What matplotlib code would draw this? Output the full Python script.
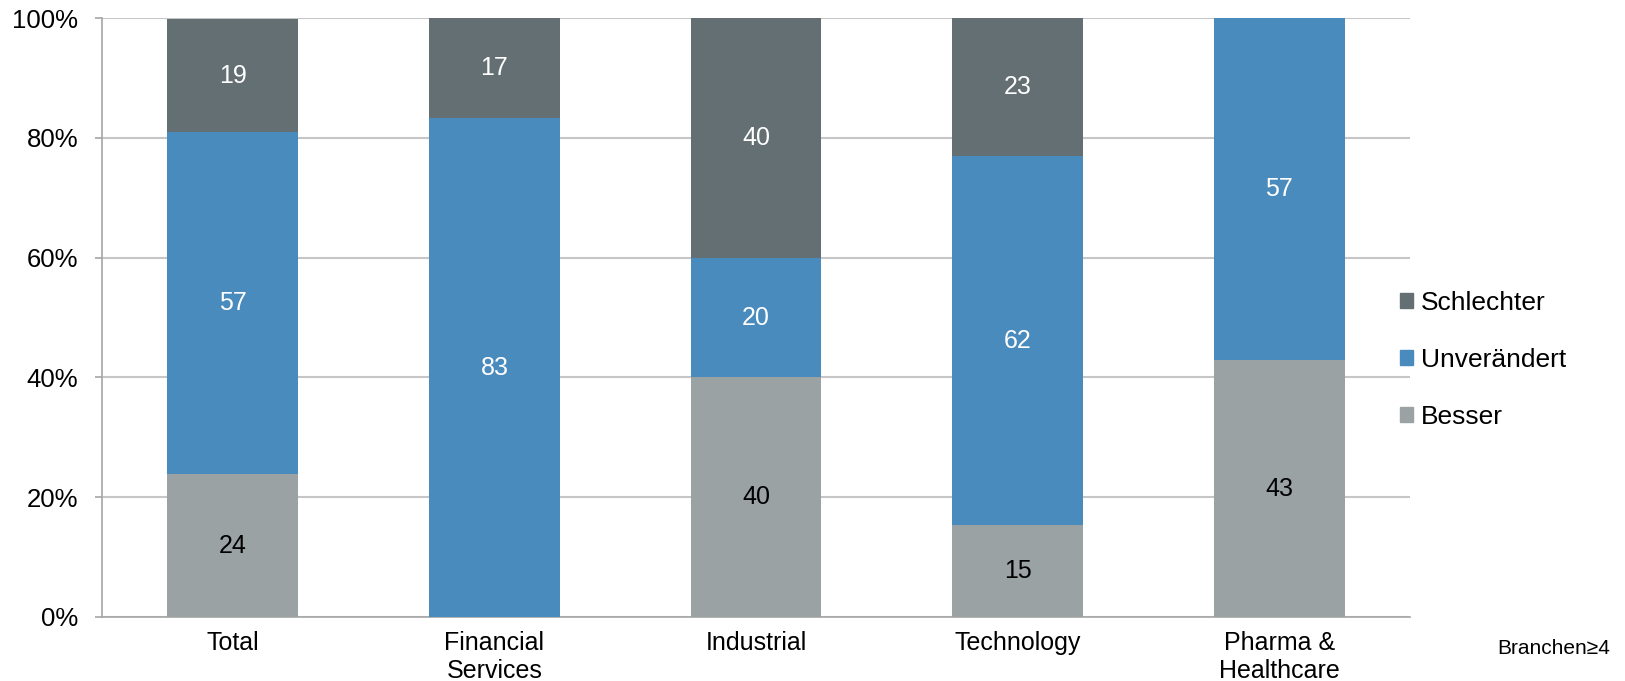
import numpy as np
import matplotlib.pyplot as plt
from matplotlib.ticker import PercentFormatter
from matplotlib.patches import Patch

plt.rcParams['font.family'] = ['Liberation Sans', 'DejaVu Sans']

# Daten (Anteile in %)
categories = ['Total', 'Financial\nServices', 'Industrial', 'Technology', 'Pharma &\nHealthcare']
besser = [23.8, 0, 40, 15.4, 42.9]
unveraendert = [57.1, 83.3, 20, 61.5, 57.1]
schlechter = [19.0, 16.7, 40, 23.1, 0]

series = [
    ('Besser', besser, '#9AA2A4', 'black'),
    ('Unverändert', unveraendert, '#4A8BBD', 'white'),
    ('Schlechter', schlechter, '#646F73', 'white'),
]

fig = plt.figure(figsize=(16.25, 6.81), dpi=100)
ax = fig.add_axes([102 / 1625, 1 - 617 / 681, (1410 - 102) / 1625, (617 - 18) / 681])

x = np.arange(len(categories))
bottom = np.zeros(len(categories))
for name, vals, color, tcolor in series:
    vals = np.array(vals, dtype=float)
    ax.bar(x, vals, 0.5, bottom=bottom, color=color, zorder=3)
    for xi, b, v in zip(x, bottom, vals):
        if v > 0:
            ax.text(xi, b + v / 2, f'{v:.0f}', ha='center', va='center',
                    color=tcolor, fontsize=18, zorder=4)
    bottom += vals

ax.set_xlim(-0.5, len(categories) - 0.5)
ax.set_ylim(0, 100)
ax.set_yticks(np.arange(0, 101, 20))
ax.yaxis.set_major_formatter(PercentFormatter(decimals=0))
ax.set_xticks(x)
ax.set_xticklabels(categories, fontsize=18, linespacing=1.2)
ax.tick_params(axis='x', length=0, pad=10)
ax.tick_params(axis='y', labelsize=18.5, length=5, width=1.2, color='#A6A6A6', pad=12)
ax.grid(axis='y', color='#C6C6C6', linewidth=1.5, zorder=0)
for s in ['top', 'right']:
    ax.spines[s].set_visible(False)
for s in ['left', 'bottom']:
    ax.spines[s].set_color('#A6A6A6')
    ax.spines[s].set_linewidth(1.2)

handles = [Patch(color=c, label=n) for n, _, c, _ in reversed(series)]
fig.legend(handles=handles, loc='center left', bbox_to_anchor=(1376 / 1625, 1 - 360 / 681),
           frameon=False, fontsize=19, handlelength=0.5, handleheight=0.5,
           handletextpad=0.3, labelspacing=1.25)

fig.text(1610 / 1625, 1 - 648 / 681, 'Branchen≥4', ha='right', va='center', fontsize=15)

fig.savefig('out.png', dpi=100)
